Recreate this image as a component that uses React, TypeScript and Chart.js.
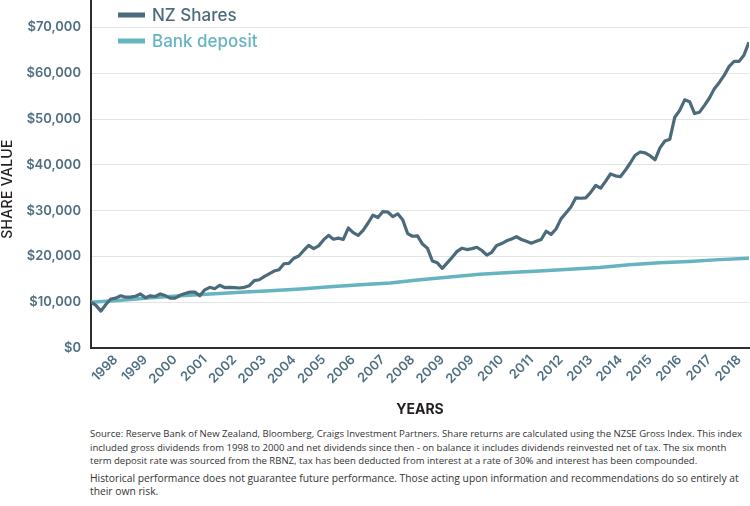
import React, { useEffect, useRef } from "react";
import { Chart, registerables } from "chart.js";

Chart.register(...registerables);

// ---- data ----
const xTickLabels = [
  "1998", "1999", "2000", "2001", "2002", "2003", "2004", "2005", "2006", "2007", "2008",
  "2009", "2009", "2010", "2011", "2012", "2013", "2014", "2015", "2016", "2017", "2018",
];
const yTickValues = [0, 10000, 20000, 30000, 40000, 50000, 60000, 70000];

// NZ Shares, equally spaced samples across the period
const nzShares = [
  10000, 9300, 8050, 9500, 10700, 10900, 11400, 11100, 11100, 11300,
  11800, 11000, 11400, 11250, 11800, 11450, 10900, 10900, 11500, 11900,
  12200, 12200, 11400, 12700, 13250, 12950, 13700, 13200, 13250, 13200,
  13100, 13250, 13600, 14700, 14900, 15600, 16200, 16800, 17100, 18400,
  18500, 19600, 20100, 21300, 22400, 21700, 22300, 23600, 24600, 23750,
  24000, 23700, 26200, 25200, 24600, 25700, 27300, 29000, 28500, 29800,
  29700, 28700, 29300, 28000, 25000, 24400, 24500, 22700, 21800, 19000,
  18600, 17400, 18600, 19800, 21100, 21800, 21500, 21700, 22000, 21300,
  20300, 20900, 22400, 22800, 23400, 23800, 24300, 23700, 23300, 22900,
  23300, 23700, 25500, 24800, 26000, 28200, 29500, 30800, 32800, 32700,
  32800, 34000, 35500, 34900, 36400, 38000, 37600, 37400, 38800, 40400,
  42100, 42800, 42600, 42000, 41100, 43700, 45200, 45600, 50400, 51900,
  54200, 53800, 51200, 51500, 53000, 54600, 56600, 58000, 59600, 61500,
  62600, 62600, 64000, 66800,
];

// Bank deposit, equally spaced samples across the same period
const bankDeposit = [
  10000, 10450, 11000, 11400, 11800, 12200, 12500, 12900, 13400, 13800,
  14200, 14900, 15500, 16100, 16500, 16800, 17200, 17600, 18200, 18600,
  18900, 19300, 19600,
];

const seriesLabels = ["NZ Shares", "Bank deposit"];
const seriesColors = ["#4b6a7b", "#66b3c1"];
const yAxisTitle = "SHARE VALUE";
const xAxisTitle = "YEARS";

const footnoteLines1 = [
  "Source: Reserve Bank of New Zealand, Bloomberg, Craigs Investment Partners. Share returns are calculated using the NZSE Gross Index. This index",
  "included gross dividends from 1998 to 2000 and net dividends since then - on balance it includes dividends reinvested net of tax. The six month",
  "term deposit rate was sourced from the RBNZ, tax has been deducted from interest at a rate of 30% and interest has been compounded.",
];
const footnoteLines2 = [
  "Historical performance does not guarantee future performance. Those acting upon information and recommendations do so entirely at",
  "their own risk.",
];

const FONT = "Inter, 'Noto Sans', sans-serif";
const CANVAS_W = 750;
const CANVAS_H = 418;
const TICK_COLOR = "#4e6f81";
const TITLE_COLOR = "#231f20";

const insideLegend = {
  id: "insideLegend",
  afterDraw(chart: any) {
    const { ctx, chartArea } = chart;
    ctx.save();
    chart.data.datasets.forEach((ds: any, i: number) => {
      const y = chartArea.top + 15 + i * 26;
      const x = chartArea.left + 27;
      ctx.fillStyle = ds.borderColor;
      ctx.fillRect(x, y - 2.5, 27, 5);
      ctx.font = `500 17px ${FONT}`;
      ctx.textBaseline = "middle";
      ctx.textAlign = "left";
      ctx.fillStyle = ds.borderColor;
      ctx.fillText(ds.label, x + 34, y + 1);
    });
    ctx.restore();
  },
};

const yTitlePlugin = {
  id: "yTitle",
  afterDraw(chart: any) {
    const { ctx, chartArea } = chart;
    ctx.save();
    ctx.translate(8, (chartArea.top + chartArea.bottom) / 2 + 15);
    ctx.rotate(-Math.PI / 2);
    ctx.font = `500 14px ${FONT}`;
    ctx.fillStyle = TITLE_COLOR;
    ctx.textAlign = "center";
    ctx.textBaseline = "middle";
    try {
      (ctx as any).letterSpacing = "0.3px";
    } catch (e) {}
    ctx.fillText(yAxisTitle, 0, 0);
    ctx.restore();
  },
};

export default function App() {
  const ref = useRef<HTMLCanvasElement | null>(null);

  useEffect(() => {
    if (!ref.current) return;
    const lastIdx = nzShares.length - 1;
    const bankStep = lastIdx / (bankDeposit.length - 1);
    const firstTick = 5;
    const tickStep = 6;

    const chart = new Chart(ref.current, {
      type: "line",
      data: {
        datasets: [
          {
            label: seriesLabels[0],
            data: nzShares.map((v, i) => ({ x: i, y: v })),
            borderColor: seriesColors[0],
            backgroundColor: seriesColors[0],
            borderWidth: 3.2,
            pointRadius: 0,
            tension: 0,
            borderJoinStyle: "round",
          },
          {
            label: seriesLabels[1],
            data: bankDeposit.map((v, k) => ({ x: k * bankStep, y: v })),
            borderColor: seriesColors[1],
            backgroundColor: seriesColors[1],
            borderWidth: 3.5,
            pointRadius: 0,
            tension: 0,
          },
        ],
      },
      options: {
        animation: false,
        responsive: false,
        layout: { padding: { left: 0, right: 1, top: 0, bottom: 0 } },
        plugins: {
          legend: { display: false },
          tooltip: { enabled: false },
        },
        scales: {
          x: {
            type: "linear",
            min: 0,
            max: lastIdx,
            afterBuildTicks: (scale: any) => {
              scale.ticks = xTickLabels.map((_, k) => ({ value: firstTick + k * tickStep }));
            },
            afterFit: (scale: any) => {
              scale.height = CANVAS_H - 348;
              scale.paddingLeft = 0;
              scale.paddingRight = 0;
            },
            grid: { display: false, drawTicks: false },
            border: { display: true, color: "#2d2d2d", width: 2 },
            ticks: {
              autoSkip: false,
              minRotation: 45,
              maxRotation: 45,
              padding: 4,
              color: TICK_COLOR,
              font: { family: FONT, size: 13, weight: "600" },
              callback: (_v: any, index: number) => xTickLabels[index] ?? "",
            },
            title: {
              display: true,
              text: xAxisTitle,
              color: TITLE_COLOR,
              font: { family: FONT, size: 14, weight: "700" },
              padding: { top: 0, bottom: 0 },
            },
          },
          y: {
            min: 0,
            max: 76000,
            afterBuildTicks: (scale: any) => {
              scale.ticks = yTickValues.map((v) => ({ value: v }));
            },
            afterFit: (scale: any) => {
              scale.width = 91;
              scale.paddingTop = 0;
              scale.paddingBottom = 0;
            },
            grid: { color: "#e4e4e4", lineWidth: 1, drawTicks: false },
            border: { display: true, color: "#2d2d2d", width: 2 },
            ticks: {
              padding: 10,
              color: TICK_COLOR,
              font: { family: FONT, size: 13, weight: "600" },
              callback: (v: any) => "$" + Number(v).toLocaleString("en-US"),
            },
            title: { display: false },
          },
        },
      },
      plugins: [insideLegend, yTitlePlugin],
    } as any);
    return () => chart.destroy();
  }, []);

  const lineStyle1: React.CSSProperties = {
    whiteSpace: "nowrap",
    height: 13.5,
    lineHeight: "13.5px",
  };
  const lineStyle2: React.CSSProperties = {
    whiteSpace: "nowrap",
    height: 13,
    lineHeight: "13px",
  };

  return (
    <div style={{ position: "absolute", left: 0, top: 0, width: 750, height: 506, background: "#fff", overflow: "hidden" }}>
      <canvas ref={ref} width={CANVAS_W} height={CANVAS_H} style={{ display: "block", width: CANVAS_W, height: CANVAS_H }} />
      <div
        style={{
          position: "absolute",
          left: 90,
          top: 427,
          fontFamily: "'Open Sans', 'Noto Sans', sans-serif",
          color: "#333",
        }}
      >
        <div style={{ fontSize: 9.55 }}>
          {footnoteLines1.map((t, i) => (
            <div key={"a" + i} style={lineStyle1}>{t}</div>
          ))}
        </div>
        <div style={{ height: 4.5 }} />
        <div style={{ fontSize: 10.3 }}>
          {footnoteLines2.map((t, i) => (
            <div key={"b" + i} style={lineStyle2}>{t}</div>
          ))}
        </div>
      </div>
    </div>
  );
}
